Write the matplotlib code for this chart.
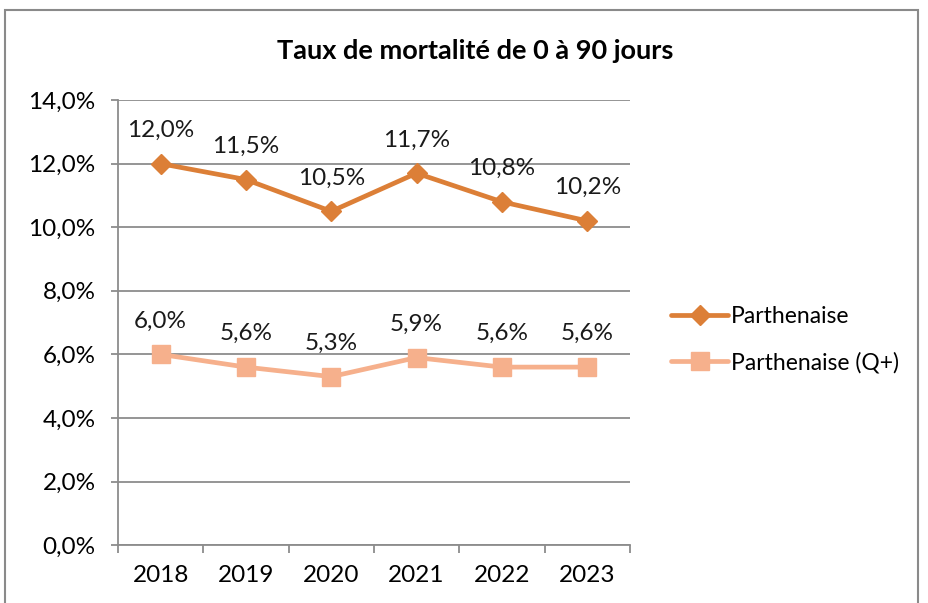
import matplotlib.pyplot as plt
from matplotlib.patches import Rectangle
from matplotlib.ticker import FuncFormatter

plt.rcParams["font.family"] = ["Lato", "DejaVu Sans"]

years = ["2018", "2019", "2020", "2021", "2022", "2023"]
parthenaise = [12.0, 11.5, 10.5, 11.7, 10.8, 10.2]
parthenaise_q = [6.0, 5.6, 5.3, 5.9, 5.6, 5.6]

DARK = "#DC7F37"
LIGHT = "#F6B08C"
GRID = "#8C8C8C"

fig = plt.figure(figsize=(9.29, 6.03), dpi=100)
ax = fig.add_axes([0.127, 0.096, 0.551, 0.738])

# chart frame like an Excel chart area
fig.patches.append(Rectangle((5 / 929, -0.05), 913 / 929, 1.05 - 10 / 603,
                             transform=fig.transFigure, fill=False,
                             edgecolor="#8A8A8A", linewidth=1.5))

x = list(range(len(years)))
ax.plot(x, parthenaise, color=DARK, linewidth=3.4, marker="D", markersize=10,
        label="Parthenaise", solid_capstyle="round", zorder=3)
ax.plot(x, parthenaise_q, color=LIGHT, linewidth=3.4, marker="s", markersize=13,
        label="Parthenaise (Q+)", solid_capstyle="round", zorder=3)

for series in (parthenaise, parthenaise_q):
    for xi, v in zip(x, series):
        ax.annotate(f"{v:.1f}%".replace(".", ","), (xi, v), xytext=(0, 24),
                    textcoords="offset points", ha="center", va="center",
                    fontsize=17.5, color="#1A1A1A")

ax.set_xlim(-0.5, len(years) - 0.5)
ax.set_ylim(0, 14)
ax.set_yticks(range(0, 15, 2))
ax.yaxis.set_major_formatter(FuncFormatter(lambda v, p: f"{v:.1f}%".replace(".", ",")))
ax.set_xticks(x)
ax.set_xticklabels(years)
ax.set_xticks([i - 0.5 for i in range(len(years) + 1)], minor=True)
ax.tick_params(axis="x", which="major", length=0, pad=14, labelsize=17.5)
ax.tick_params(axis="x", which="minor", length=6, width=1.3, color=GRID)
ax.tick_params(axis="y", length=5, width=1.3, color=GRID, labelsize=17.5, pad=11)

ax.grid(axis="y", color=GRID, linewidth=1.3)
ax.set_axisbelow(True)
for side in ("top", "right"):
    ax.spines[side].set_visible(False)
for side in ("left", "bottom"):
    ax.spines[side].set_color(GRID)
    ax.spines[side].set_linewidth(1.3)

fig.text(0.511, 0.915, "Taux de mortalité de 0 à 90 jours", ha="center", va="center",
         fontsize=19.5, fontweight="bold")

fig.legend(loc="center left", bbox_to_anchor=(0.7, 0.437), frameon=False,
           fontsize=16.5, handlelength=2.5, handletextpad=0.1, labelspacing=1.1)

fig.savefig("out.png", dpi=100)
